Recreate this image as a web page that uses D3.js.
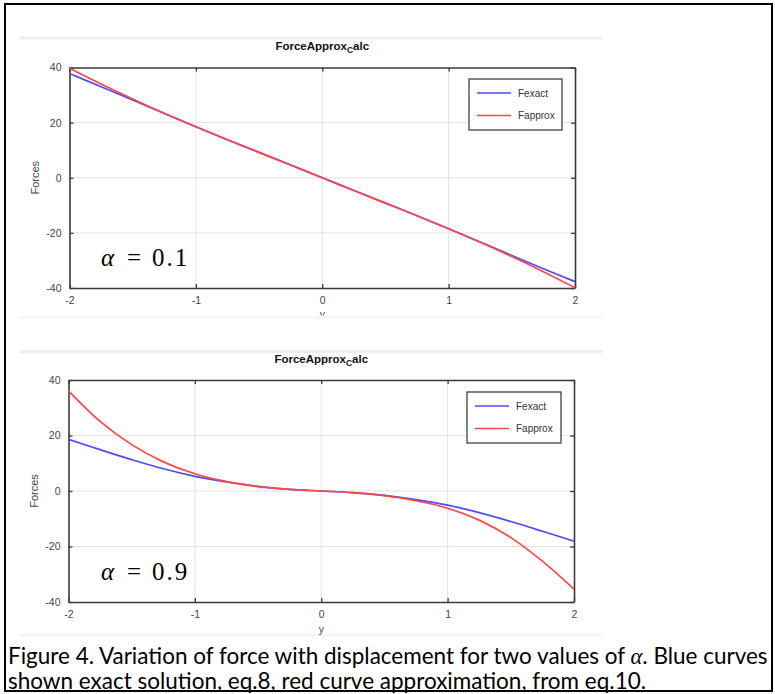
<!DOCTYPE html>
<html>
<head>
<meta charset="utf-8">
<script src="https://cdn.jsdelivr.net/npm/d3@7"></script>
<style>
  html, body { margin: 0; padding: 0; background: #fff; }
  svg { display: block; }
</style>
</head>
<body>
<svg id="fig" width="775" height="694"></svg>
<script>
// Displacement samples shared by both panels
const yDisp = [-2, -1.75, -1.5, -1.25, -1, -0.75, -0.5, -0.25, 0, 0.25, 0.5, 0.75, 1, 1.25, 1.5, 1.75, 2];

// alpha = 0.1
const fExact01  = [37.8, 33.0, 28.2, 23.3, 18.5, 13.8, 9.2, 4.6, 0, -4.6, -9.2, -13.8, -18.5, -23.3, -28.2, -33.0, -37.7];
const fApprox01 = [39.7, 34.0, 28.6, 23.4, 18.5, 13.8, 9.2, 4.6, 0, -4.6, -9.2, -13.8, -18.5, -23.4, -28.6, -34.1, -39.9];

// alpha = 0.9
const fExact09  = [18.6, 14.9, 11.3, 8.0, 5.3, 3.3, 1.7, 0.6, 0, -0.6, -1.6, -3.1, -5.1, -7.8, -11.0, -14.5, -18.1];
const fApprox09 = [36.1, 25.1, 16.7, 10.5, 6.2, 3.4, 1.6, 0.6, 0, -0.6, -1.7, -3.5, -6.2, -10.5, -16.8, -25.3, -35.4];

const xTicks = [-2, -1, 0, 1, 2];
const yTicks = [-40, -20, 0, 20, 40];
const seriesNames = ["Fexact", "Fapprox"];
const seriesColors = ["#4b4bff", "#ff4646"];
const plotTitle = "ForceApprox";
const plotTitleSub = "C";
const plotTitleTail = "alc";
const yLabel = "Forces";
const xLabel = "y";
const alphaValues = ["0.1", "0.9"];
const captionLines = [
  ["Figure 4. Variation of force with displacement for two values of ", "α", ". Blue curves"],
  ["shown exact solution, eq.8, red curve approximation, from eq.10."]
];

const svg = d3.select("#fig");
const axisFont = "'Liberation Sans', Arial, Helvetica, sans-serif";
const mathFont = "'Liberation Serif', 'DejaVu Serif', serif";

// outer frame
svg.append("rect")
  .attr("x", 5).attr("y", 4).attr("width", 767).attr("height", 687)
  .attr("fill", "none").attr("stroke", "#000").attr("stroke-width", 2);

const panels = [
  { exact: fExact01, approx: fApprox01, alpha: alphaValues[0],
    left: 69.5, right: 575, top: 67.5, bottom: 288,
    bandTop: 38, bandBottom: 317.5, titleY: 50,
    legend: { x: 469, y: 79, w: 93, h: 51 },
    alphaY: 266, xLabelClip: 315.5 },
  { exact: fExact09, approx: fApprox09, alpha: alphaValues[1],
    left: 68.5, right: 574, top: 380, bottom: 602,
    bandTop: 351.5, bandBottom: 635, titleY: 363,
    legend: { x: 467, y: 392, w: 94, h: 51 },
    alphaY: 580, xLabelClip: null }
];

panels.forEach((p, i) => {
  const g = svg.append("g");

  // faint strips framing each exported figure
  g.append("rect").attr("x", 20).attr("y", p.bandTop - 1.5).attr("width", 583).attr("height", 3)
    .attr("fill", "#efefef");
  g.append("rect").attr("x", 20).attr("y", p.bandBottom - 1).attr("width", 583).attr("height", 2)
    .attr("fill", "#f3f3f3");

  const x = d3.scaleLinear().domain([-2, 2]).range([p.left, p.right]);
  const y = d3.scaleLinear().domain([-40, 40]).range([p.bottom, p.top]);

  // grid
  g.append("g").selectAll("line").data(xTicks.slice(1, -1)).join("line")
    .attr("x1", d => x(d)).attr("x2", d => x(d))
    .attr("y1", p.top).attr("y2", p.bottom)
    .attr("stroke", "#e3e3e3").attr("stroke-width", 1);
  g.append("g").selectAll("line").data(yTicks.slice(1, -1)).join("line")
    .attr("y1", d => y(d)).attr("y2", d => y(d))
    .attr("x1", p.left).attr("x2", p.right)
    .attr("stroke", "#e3e3e3").attr("stroke-width", 1);

  // axes with inward ticks on all four sides
  const fmt = d => String(d);
  const axStyle = sel => {
    sel.select(".domain").attr("stroke", "#3a3a3a").attr("stroke-width", 1.6);
    sel.selectAll(".tick line").attr("stroke", "#3a3a3a").attr("stroke-width", 1.3);
    sel.selectAll("text").attr("fill", "#444").attr("font-family", axisFont).attr("font-size", 10.5);
  };
  g.append("g").attr("transform", `translate(0,${p.bottom})`)
    .call(d3.axisBottom(x).tickValues(xTicks).tickSizeInner(-4).tickSizeOuter(0).tickPadding(9).tickFormat(fmt))
    .call(axStyle);
  g.append("g").attr("transform", `translate(0,${p.top})`)
    .call(d3.axisTop(x).tickValues(xTicks).tickSizeInner(-4).tickSizeOuter(0).tickFormat(""))
    .call(axStyle);
  g.append("g").attr("transform", `translate(${p.left},0)`)
    .call(d3.axisLeft(y).tickValues(yTicks).tickSizeInner(-4).tickSizeOuter(0).tickPadding(8).tickFormat(fmt))
    .call(axStyle);
  g.append("g").attr("transform", `translate(${p.right},0)`)
    .call(d3.axisRight(y).tickValues(yTicks).tickSizeInner(-4).tickSizeOuter(0).tickFormat(""))
    .call(axStyle);

  // curves
  const line = d3.line().x((d, k) => x(yDisp[k])).y(d => y(d)).curve(d3.curveCatmullRom.alpha(0.5));
  [p.exact, p.approx].forEach((vals, k) => {
    g.append("path").datum(vals).attr("d", line)
      .attr("fill", "none").attr("stroke", seriesColors[k]).attr("stroke-width", 1.7)
      .attr("stroke-linejoin", "round");
  });

  // title
  const t = g.append("text").attr("x", x(0)).attr("y", p.titleY)
    .attr("text-anchor", "middle").attr("font-family", axisFont)
    .attr("font-weight", "bold").attr("font-size", 11.5).attr("fill", "#111");
  t.append("tspan").text(plotTitle);
  t.append("tspan").attr("dy", 3).attr("font-size", 8.5).text(plotTitleSub);
  t.append("tspan").attr("dy", -3).text(plotTitleTail);

  // y label
  g.append("text")
    .attr("transform", `translate(${p.left - 31},${(p.top + p.bottom) / 2}) rotate(-90)`)
    .attr("text-anchor", "middle").attr("font-family", axisFont)
    .attr("font-size", 11).attr("fill", "#444").text(yLabel);

  // x label (the upper one is partly covered by the next figure)
  const xl = g.append("text").attr("x", x(0)).attr("y", p.bottom + 31)
    .attr("text-anchor", "middle").attr("font-family", axisFont)
    .attr("font-size", 10.5).attr("fill", "#444").text(xLabel);
  if (p.xLabelClip !== null) {
    const cid = "clipx" + i;
    svg.append("clipPath").attr("id", cid).append("rect")
      .attr("x", 0).attr("y", 0).attr("width", 775).attr("height", p.xLabelClip);
    xl.attr("y", p.bottom + 30).attr("clip-path", `url(#${cid})`);
  }

  // legend
  const L = p.legend;
  g.append("rect").attr("x", L.x).attr("y", L.y).attr("width", L.w).attr("height", L.h)
    .attr("fill", "#fff").attr("stroke", "#333").attr("stroke-width", 1.2);
  seriesNames.forEach((name, k) => {
    const ly = L.y + 14 + k * 22.5;
    g.append("line").attr("x1", L.x + 8).attr("x2", L.x + 42).attr("y1", ly).attr("y2", ly)
      .attr("stroke", seriesColors[k]).attr("stroke-width", 1.7);
    g.append("text").attr("x", L.x + 49).attr("y", ly + 3.5)
      .attr("font-family", axisFont).attr("font-size", 10).attr("fill", "#333").text(name);
  });

  // alpha annotation
  const a = g.append("text").attr("y", p.alphaY)
    .attr("font-family", mathFont).attr("font-size", 25).attr("fill", "#000");
  a.append("tspan").attr("x", 101).attr("font-style", "italic").text("α");
  a.append("tspan").attr("x", 127).text("=");
  a.append("tspan").attr("x", 152).attr("letter-spacing", 2).text(p.alpha);
});

// caption, sized so the first line spans the frame
const cap = svg.append("g").attr("font-family", "Lato, 'Open Sans', sans-serif").attr("fill", "#000");
const capTexts = captionLines.map((parts, li) => {
  const tx = cap.append("text").attr("x", 8).attr("y", 664 + li * 25).attr("font-size", 20);
  parts.forEach(s => {
    const ts = tx.append("tspan").text(s);
    if (s === "α") ts.attr("font-family", mathFont).attr("font-style", "italic");
  });
  return tx;
});
const w0 = capTexts[0].node().getComputedTextLength();
const capSize = Math.min(22.5, 20 * 760 / w0);
capTexts.forEach(tx => tx.attr("font-size", capSize));
</script>
</body>
</html>
